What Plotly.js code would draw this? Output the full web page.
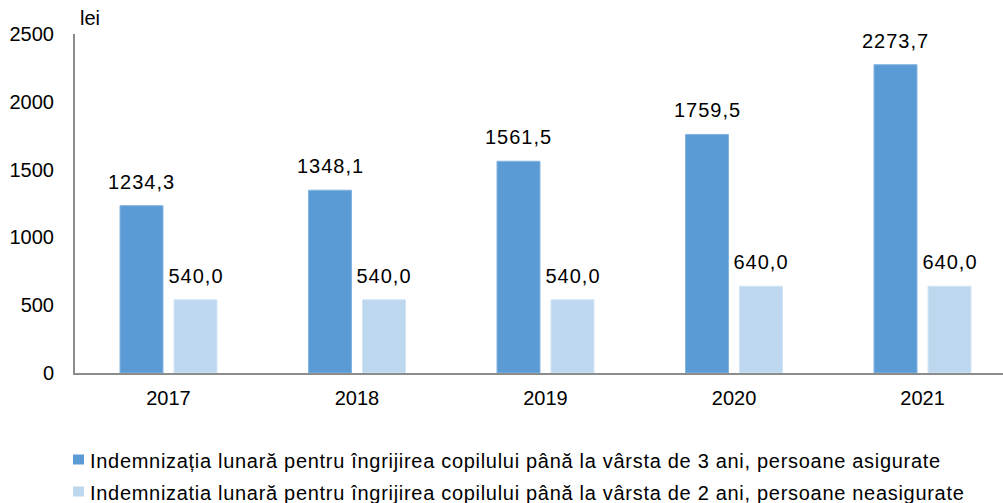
<!DOCTYPE html>
<html>
<head>
<meta charset="utf-8">
<script src="https://cdn.plot.ly/plotly-3.0.1.min.js"></script>
<style>
html,body{margin:0;padding:0;background:#fff;}
#chart{width:1003px;height:503px;}
#chart .legendtext{letter-spacing:0.7px;}
#chart .annotation-text.vlabel{letter-spacing:1px;}
</style>
</head>
<body>
<div id="chart"></div>
<script>
const years = ['2017', '2018', '2019', '2020', '2021'];
const insured = [1234.3, 1348.1, 1561.5, 1759.5, 2273.7];
const uninsured = [540.0, 540.0, 540.0, 640.0, 640.0];
const seriesNames = [
  'Indemnizația lunară pentru îngrijirea copilului până la vârsta de 3 ani, persoane asigurate',
  'Indemnizatia lunară pentru îngrijirea copilului până la vârsta de 2 ani, persoane neasigurate'
];
const yTicks = [0, 500, 1000, 1500, 2000, 2500];
const unitLabel = 'lei';

const colors = ['#5B9BD5', '#BDD7EE'];
const edgeColors = ['#84b4e0', '#d3e5f5'];
const font = 'Liberation Sans, Arial, sans-serif';
const bargap = 0.427;
const series = [insured, uninsured];

const traces = series.map((vals, i) => ({
  type: 'bar',
  x: years,
  y: vals,
  name: seriesNames[i],
  legendgroup: 'g' + i,
  marker: {color: colors[i], line: {color: edgeColors[i], width: 1}},
  hoverinfo: 'skip'
}));

const fmt = v => v.toFixed(1).replace('.', ',');
const slot = (1 - bargap) / series.length;
const annotations = [];
series.forEach((vals, i) => {
  vals.forEach((v, j) => {
    annotations.push({
      xref: 'x', yref: 'y',
      x: j + (i - (series.length - 1) / 2) * slot,
      y: v,
      text: fmt(v),
      showarrow: false,
      xanchor: 'center', yanchor: 'bottom',
      yshift: 11,
      font: {family: font, size: 20, color: '#000'}
    });
  });
});
const nValueLabels = annotations.length;
annotations.push({
  xref: 'paper', yref: 'paper', x: 0, y: 1,
  xanchor: 'left', yanchor: 'middle', xshift: 3, yshift: 16,
  text: unitLabel, showarrow: false,
  font: {family: font, size: 20, color: '#000'}
});

const layout = {
  width: 1003, height: 503,
  margin: {l: 75, r: 0, t: 34, b: 130, pad: 0, autoexpand: false},
  paper_bgcolor: '#fff', plot_bgcolor: '#fff',
  separators: ', ',
  barmode: 'group',
  bargap: bargap,
  bargroupgap: 0.204,
  showlegend: true,
  legend: {
    orientation: 'v',
    x: 50 / 1003, xref: 'container', xanchor: 'left',
    y: (503 - 441) / 503, yref: 'container', yanchor: 'top',
    font: {family: font, size: 20, color: '#000'},
    tracegroupgap: 3,
    itemwidth: 30,
    bgcolor: 'rgba(0,0,0,0)'
  },
  xaxis: {
    type: 'category',
    range: [-0.496, 4.427],
    showline: true, linecolor: '#8c8c8c', linewidth: 2,
    showgrid: false, zeroline: false,
    ticks: '', ticklabelstandoff: 6,
    tickfont: {family: font, size: 20, color: '#000'},
    fixedrange: true
  },
  yaxis: {
    range: [0, 2500],
    tickvals: yTicks,
    ticktext: yTicks.map(String),
    showline: true, linecolor: '#8c8c8c', linewidth: 2,
    showgrid: false, zeroline: false,
    ticks: '', ticklabelstandoff: 15,
    tickfont: {family: font, size: 20, color: '#000'},
    fixedrange: true
  },
  annotations: annotations
};

Plotly.newPlot('chart', traces, layout, {displayModeBar: false, staticPlot: true}).then(gd => {
  const texts = gd.querySelectorAll('.annotation-text');
  texts.forEach((t, k) => { if (k < nValueLabels) t.classList.add('vlabel'); });
  gd.querySelectorAll('.legend .scrollbox, .legend').forEach(el => el.removeAttribute('clip-path'));
  gd.querySelectorAll('[clip-path*="legend"]').forEach(el => el.removeAttribute('clip-path'));
  gd.querySelectorAll('.legend .legendpoints').forEach(el => {
    el.setAttribute('transform', 'translate(8.5,-1) ' + (el.getAttribute('transform') || ''));
    el.querySelectorAll('path').forEach(p => {
      p.setAttribute('d', 'M5.5,5H-5.5V-5H5.5Z');
      p.style.strokeWidth = '0px';
    });
  });
});
</script>
</body>
</html>
